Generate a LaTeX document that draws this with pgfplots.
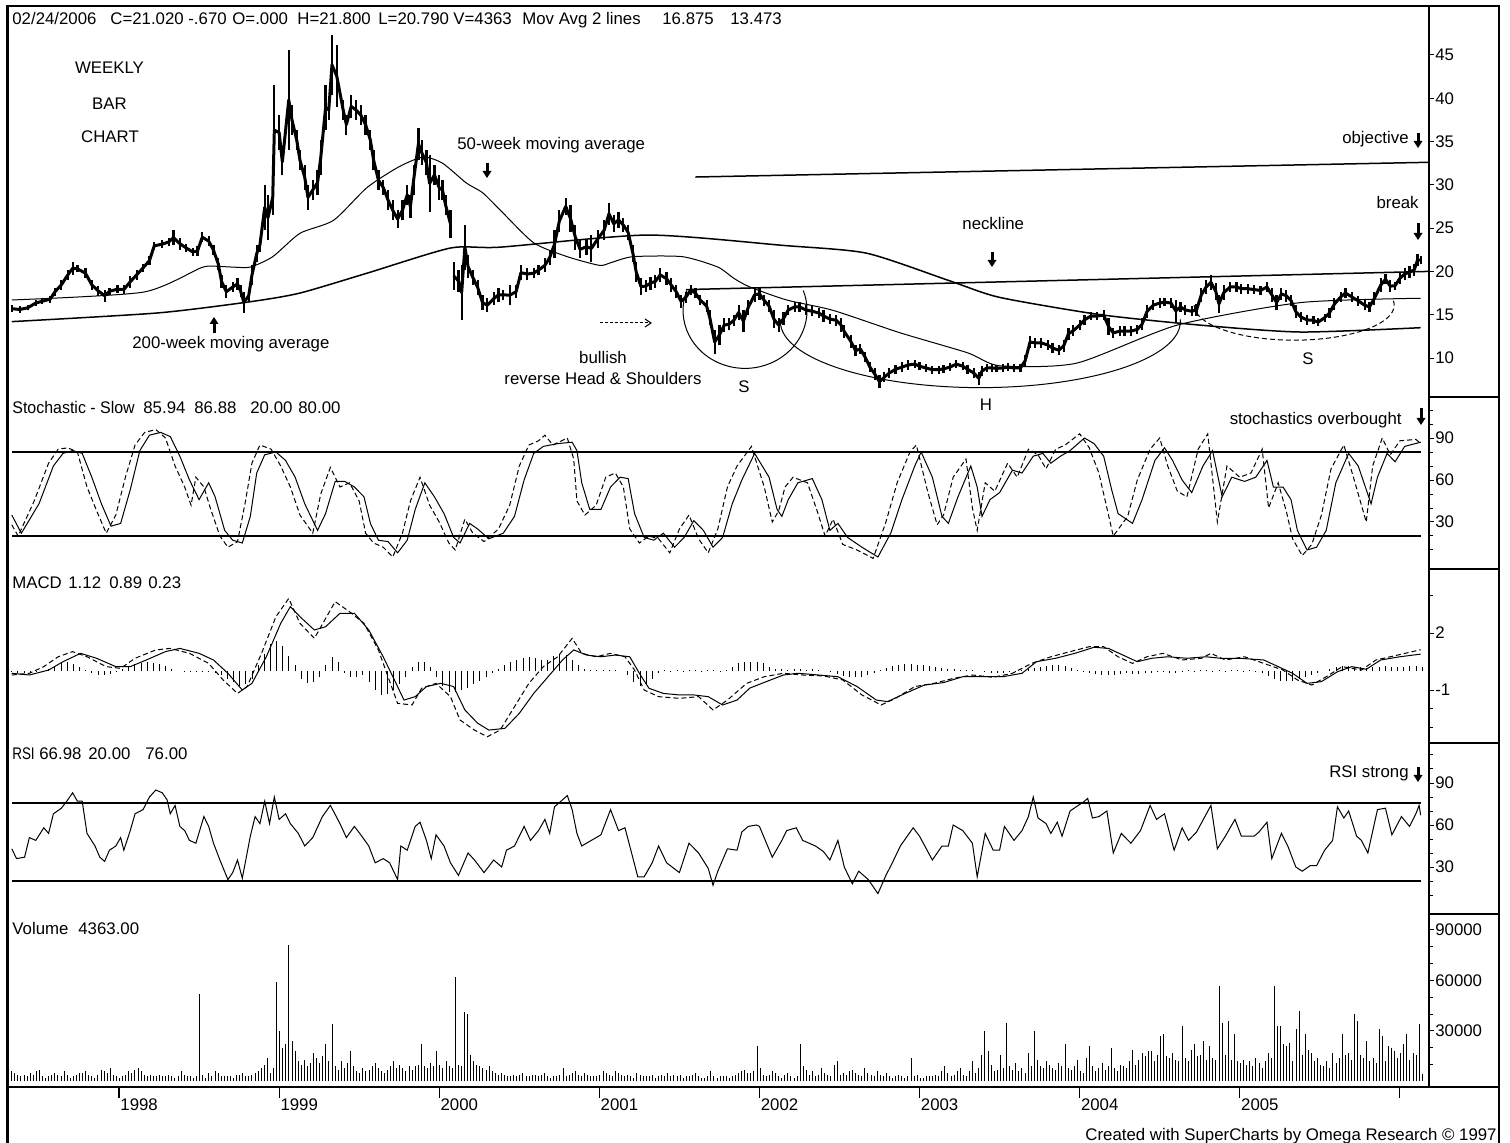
\documentclass[border=0pt]{standalone}
\usepackage{pgfplots}
\pgfplotsset{compat=1.18}
\usepackage{pgfplotstable}
\usepackage{fontspec}
\setmainfont{Liberation Sans}
\newcommand{\tf}{\fontsize{8.4}{10}\selectfont}

\pgfplotstableread{
t lo hi
1997.33 15.3 16.1
1997.38 15.2 16.0
1997.43 15.5 16.1
1997.48 16.0 16.7
1997.52 16.2 16.9
1997.57 16.4 17.2
1997.60 17.2 18.1
1997.64 17.9 19.0
1997.68 19.0 20.2
1997.71 19.6 21.1
1997.74 19.9 20.7
1997.79 19.2 20.4
1997.83 17.9 19.0
1997.87 17.2 18.3
1997.91 16.5 17.9
1997.94 17.3 18.1
1997.99 17.5 18.4
1998.03 17.4 18.4
1998.07 18.1 19.5
1998.11 19.0 20.2
1998.15 19.9 20.9
1998.19 20.7 21.8
1998.22 22.5 23.4
1998.27 22.7 23.6
1998.31 22.9 23.9
1998.34 23.0 24.8
1998.38 22.5 23.9
1998.42 22.2 23.2
1998.46 21.8 22.7
1998.49 21.8 22.9
1998.52 23.4 24.5
1998.56 22.9 24.1
1998.59 21.9 23.0
1998.62 20.2 21.5
1998.64 18.1 19.6
1998.67 16.9 18.4
1998.71 17.6 18.8
1998.74 17.9 19.2
1998.76 17.0 18.4
1998.78 15.2 17.6
1998.81 16.5 17.9
1998.83 18.4 20.7
1998.86 21.1 23.0
1998.88 22.2 23.9
1998.91 24.8 30.0
1998.93 23.6 28.8
1998.96 26.5 30.6
1998.97 31.1 41.5
1999.00 34.0 38.1
1999.02 31.1 34.2
1999.06 34.0 45.6
1999.08 35.8 39.2
1999.11 34.0 36.3
1999.13 31.7 34.0
1999.16 29.4 32.3
1999.18 27.1 30.0
1999.21 28.2 30.6
1999.24 28.8 31.7
1999.26 31.1 35.2
1999.29 36.3 41.5
1999.31 37.5 39.8
1999.33 40.4 47.3
1999.36 39.0 46.1
1999.40 37.5 39.8
1999.42 35.8 38.1
1999.45 37.7 40.4
1999.48 37.5 39.8
1999.51 36.9 39.2
1999.54 35.8 38.1
1999.57 34.0 36.3
1999.59 31.7 34.0
1999.62 29.4 31.7
1999.65 28.8 30.6
1999.68 27.1 29.4
1999.71 25.9 28.2
1999.74 25.0 27.1
1999.77 25.9 28.2
1999.80 27.7 30.0
1999.82 26.2 28.8
1999.84 28.8 32.3
1999.87 32.9 36.6
1999.89 32.3 35.2
1999.92 31.1 34.0
1999.94 26.9 33.4
1999.97 30.0 32.3
2000.00 28.2 31.1
2000.02 28.2 30.6
2000.04 26.5 28.8
2000.07 23.9 27.1
}\priceA

\pgfplotstableread{
t lo hi
2000.09 17.9 21.1
2000.12 17.6 20.2
2000.14 14.4 20.7
2000.16 20.2 25.4
2000.18 19.2 21.9
2000.21 18.4 20.2
2000.24 17.3 19.0
2000.27 15.5 17.3
2000.30 15.3 16.9
2000.34 16.1 17.6
2000.37 16.5 18.1
2000.40 16.7 17.9
2000.44 16.1 18.4
2000.48 16.9 18.4
2000.51 19.0 20.7
2000.55 19.0 20.4
2000.59 19.2 20.4
2000.62 19.6 20.7
2000.66 19.9 21.5
2000.69 20.7 22.5
2000.72 21.5 24.8
2000.75 24.5 27.1
2000.79 26.5 28.5
2000.82 24.5 27.7
2000.85 22.5 25.4
2000.88 21.5 23.6
2000.92 21.9 23.8
2000.95 21.1 24.2
2000.99 22.7 24.8
2001.03 23.6 25.9
2001.06 25.4 27.9
2001.09 24.5 26.5
2001.12 25.0 26.9
2001.15 24.5 26.2
2001.18 23.6 25.4
2001.21 21.1 23.0
2001.23 18.8 21.1
2001.26 17.3 19.2
2001.29 17.6 19.0
2001.32 17.9 19.4
2001.35 18.1 19.6
2001.38 18.8 20.4
2001.42 18.4 19.9
2001.45 17.6 19.2
2001.48 16.9 18.4
2001.51 15.8 17.3
2001.54 16.4 17.6
2001.57 17.3 18.4
2001.60 16.9 18.1
2001.63 16.1 17.3
2001.67 15.3 16.7
2001.69 13.8 15.5
2001.72 10.5 13.2
2001.75 11.5 13.8
2001.78 13.0 14.6
2001.81 13.2 14.6
2001.84 13.7 15.0
2001.87 14.4 16.1
2001.90 13.0 15.5
2001.93 15.0 16.7
2001.97 16.5 18.1
2002.00 16.7 18.1
2002.03 16.0 17.3
2002.06 15.3 16.7
2002.09 13.5 15.5
2002.12 13.0 14.6
2002.15 13.8 15.3
2002.18 15.0 16.1
2002.22 15.3 16.5
2002.25 15.3 16.5
2002.29 15.0 16.1
2002.33 14.8 16.0
2002.37 14.6 15.8
2002.40 14.2 15.5
2002.44 13.9 15.1
2002.48 13.7 15.0
2002.51 13.0 14.6
2002.53 12.3 13.8
2002.57 11.2 12.7
2002.60 10.2 11.5
2002.63 10.5 11.6
2002.66 9.5 10.7
2002.69 8.4 9.5
2002.72 7.5 8.8
2002.75 6.5 8.0
2002.78 7.2 8.4
2002.81 7.7 8.8
2002.85 8.2 9.2
2002.89 8.4 9.5
2002.93 8.6 9.8
2002.97 8.8 9.8
2003.00 8.6 9.5
2003.04 8.4 9.3
2003.08 8.2 9.1
2003.12 8.2 9.1
2003.15 8.3 9.2
2003.19 8.5 9.4
2003.23 8.8 9.8
2003.27 8.6 9.5
2003.30 8.2 9.2
2003.34 7.7 8.8
2003.37 6.9 8.4
2003.39 7.9 9.1
2003.42 8.4 9.3
2003.45 8.4 9.3
2003.48 8.4 9.2
2003.52 8.4 9.3
2003.55 8.5 9.4
2003.59 8.4 9.3
2003.63 8.4 9.3
2003.66 9.1 10.3
2003.69 11.2 12.5
2003.72 11.2 12.3
2003.76 11.2 12.3
2003.80 10.9 12.1
2003.83 10.6 11.7
2003.87 10.3 11.5
2003.90 10.7 12.1
2003.93 12.1 13.5
2003.96 12.5 13.8
2004.00 13.2 14.4
2004.03 13.8 15.0
2004.07 14.4 15.3
2004.11 14.4 15.3
2004.15 14.4 15.5
2004.18 12.7 14.6
2004.21 12.3 13.5
2004.25 12.5 13.7
2004.28 12.5 13.7
2004.32 12.5 13.7
2004.36 12.8 13.8
2004.39 13.2 14.6
2004.42 14.6 16.1
2004.46 15.5 16.7
2004.50 15.8 16.9
2004.53 16.0 16.9
2004.57 15.8 16.9
2004.60 14.2 16.7
2004.63 15.3 16.5
2004.66 15.0 16.1
2004.70 14.8 16.0
2004.73 14.9 16.2
2004.76 16.5 18.1
2004.79 17.4 19.0
2004.82 17.9 19.6
2004.85 16.7 18.7
2004.87 15.2 17.3
2004.90 16.7 18.4
2004.94 17.6 18.8
2004.98 17.6 18.8
2005.01 17.4 18.6
2005.05 17.4 18.6
2005.09 17.4 18.4
2005.13 17.3 18.3
2005.17 17.6 18.8
2005.20 16.5 18.1
2005.23 15.5 17.3
2005.26 16.7 18.1
2005.29 16.5 17.9
2005.32 16.0 17.3
2005.35 14.6 16.1
2005.38 14.2 15.3
2005.42 13.8 15.0
2005.46 13.9 14.8
2005.49 13.7 14.6
2005.53 14.2 15.1
2005.56 14.6 15.8
2005.59 15.5 16.9
2005.63 16.5 17.6
2005.66 16.9 18.1
2005.70 16.5 17.6
2005.74 16.0 17.2
2005.78 15.5 16.7
2005.81 15.3 16.5
2005.84 16.1 17.6
2005.88 17.6 19.2
2005.91 18.5 19.7
2005.94 17.6 19.0
2005.97 17.9 18.8
2006.00 18.5 19.9
2006.03 19.0 20.4
2006.06 19.2 20.6
2006.09 19.5 20.9
2006.11 20.6 22.0
2006.13 20.8 21.8
}\priceB

\pgfplotstableread{
t v
1997.33 35
1997.39 22
1997.50 43
1997.59 70
1997.65 79
1997.71 81
1997.77 79
1997.83 62
1997.89 43
1997.95 27
1998.01 29
1998.07 53
1998.13 81
1998.19 92
1998.26 94
1998.32 91
1998.38 77
1998.44 60
1998.50 46
1998.56 58
1998.60 48
1998.66 24
1998.71 17
1998.77 15
1998.82 34
1998.86 65
1998.91 78
1998.98 80
1999.04 74
1999.10 62
1999.16 43
1999.24 24
1999.29 36
1999.35 59
1999.41 59
1999.47 55
1999.53 48
1999.57 29
1999.62 17
1999.68 16
1999.74 8
1999.80 17
1999.85 39
1999.91 58
1999.97 48
2000.03 36
2000.09 19
2000.13 15
2000.19 29
2000.24 25
2000.31 18
2000.40 22
2000.47 34
2000.53 60
2000.59 79
2000.65 84
2000.74 86
2000.83 87
2000.86 81
2000.89 58
2000.94 39
2001.01 39
2001.07 55
2001.13 62
2001.18 61
2001.22 36
2001.28 19
2001.34 17
2001.40 22
2001.47 12
2001.53 19
2001.59 31
2001.65 24
2001.71 12
2001.77 19
2001.83 43
2001.89 60
2001.97 79
2002.06 62
2002.11 39
2002.14 34
2002.18 46
2002.24 58
2002.33 61
2002.39 46
2002.44 24
2002.49 29
2002.55 19
2002.64 12
2002.74 5
2002.82 22
2002.89 46
2002.97 70
2003.01 80
2003.08 62
2003.14 34
2003.18 29
2003.24 48
2003.32 70
2003.36 55
2003.39 34
2003.44 46
2003.50 51
2003.58 67
2003.64 65
2003.71 77
2003.77 79
2003.82 72
2003.88 77
2003.94 81
2004.03 90
2004.09 86
2004.15 77
2004.20 53
2004.24 36
2004.33 29
2004.39 46
2004.47 74
2004.53 83
2004.58 74
2004.64 60
2004.70 51
2004.77 70
2004.83 81
2004.89 48
2004.95 62
2005.03 59
2005.10 62
2005.17 74
2005.21 55
2005.27 55
2005.32 46
2005.36 24
2005.42 10
2005.48 12
2005.54 24
2005.60 58
2005.68 79
2005.74 70
2005.82 43
2005.86 62
2005.92 79
2005.97 73
2006.03 84
2006.13 87
}\stoD

\pgfplotstableread{
t v
1997.33 28
1997.37 20
1997.47 45
1997.56 72
1997.62 82
1997.68 83
1997.74 80
1997.80 55
1997.86 38
1997.92 22
1997.98 35
1998.04 62
1998.10 85
1998.16 94
1998.23 96
1998.29 90
1998.35 70
1998.41 55
1998.45 42
1998.48 62
1998.53 55
1998.57 40
1998.63 20
1998.68 12
1998.74 16
1998.79 45
1998.83 72
1998.88 85
1998.95 82
1999.01 70
1999.07 55
1999.13 35
1999.21 22
1999.26 50
1999.32 69
1999.38 55
1999.44 58
1999.50 45
1999.54 22
1999.59 15
1999.65 12
1999.71 5
1999.77 22
1999.82 45
1999.88 62
1999.94 42
2000.00 30
2000.06 15
2000.10 10
2000.16 32
2000.21 22
2000.28 16
2000.37 25
2000.44 42
2000.50 70
2000.56 85
2000.62 88
2000.66 92
2000.71 85
2000.80 90
2000.84 75
2000.86 45
2000.91 35
2000.98 42
2001.04 62
2001.10 65
2001.15 55
2001.19 25
2001.25 15
2001.31 20
2001.37 18
2001.44 8
2001.50 25
2001.56 35
2001.62 18
2001.68 8
2001.74 25
2001.80 55
2001.86 70
2001.95 84
2002.03 55
2002.08 30
2002.12 38
2002.16 55
2002.21 62
2002.30 58
2002.36 38
2002.41 20
2002.46 32
2002.52 14
2002.61 10
2002.71 4
2002.79 30
2002.86 58
2002.94 80
2002.98 85
2003.05 52
2003.11 28
2003.15 35
2003.21 62
2003.29 75
2003.33 40
2003.36 24
2003.41 58
2003.47 52
2003.55 72
2003.61 62
2003.68 82
2003.74 78
2003.79 68
2003.85 82
2003.91 85
2004.00 93
2004.06 83
2004.12 65
2004.17 40
2004.21 20
2004.30 34
2004.36 60
2004.44 82
2004.50 90
2004.55 70
2004.61 52
2004.67 48
2004.74 82
2004.80 93
2004.86 30
2004.92 70
2005.00 62
2005.07 65
2005.14 82
2005.18 40
2005.24 58
2005.29 38
2005.33 18
2005.39 6
2005.45 14
2005.51 35
2005.57 68
2005.65 85
2005.71 62
2005.79 30
2005.83 70
2005.89 90
2005.94 78
2006.00 88
2006.10 89
2006.13 86
}\stoK

\pgfplotstableread{
t v
1997.33 -0.12
1997.44 -0.21
1997.56 0.05
1997.65 0.49
1997.76 0.93
1997.86 0.67
1997.98 0.23
1998.07 0.23
1998.17 0.58
1998.29 1.02
1998.38 1.19
1998.50 0.93
1998.59 0.58
1998.68 -0.12
1998.77 -1.0
1998.83 -0.65
1998.92 0.75
1999.01 2.51
1999.07 3.39
1999.13 2.86
1999.22 2.16
1999.29 2.33
1999.38 3.04
1999.47 3.04
1999.56 2.16
1999.65 0.75
1999.72 -0.47
1999.78 -1.53
1999.85 -1.35
1999.92 -0.82
2000.01 -0.65
2000.09 -0.82
2000.16 -2.05
2000.24 -2.75
2000.31 -3.11
2000.41 -3.02
2000.50 -2.23
2000.59 -1.18
2000.68 -0.30
2000.77 0.58
2000.84 1.11
2000.92 0.84
2001.01 0.75
2001.10 0.84
2001.19 0.75
2001.25 -0.12
2001.31 -0.91
2001.40 -1.18
2001.50 -1.26
2001.59 -1.26
2001.68 -1.35
2001.77 -1.79
2001.86 -1.53
2001.94 -0.9
2002.03 -0.6
2002.15 -0.21
2002.24 -0.12
2002.37 -0.21
2002.49 -0.30
2002.61 -0.82
2002.73 -1.53
2002.80 -1.61
2002.91 -1.18
2003.03 -0.74
2003.15 -0.61
2003.27 -0.30
2003.39 -0.30
2003.52 -0.30
2003.64 -0.12
2003.73 0.49
2003.85 0.67
2003.97 0.93
2004.09 1.25
2004.18 1.19
2004.27 0.84
2004.36 0.49
2004.45 0.67
2004.55 0.75
2004.67 0.67
2004.79 0.75
2004.88 0.67
2005.00 0.67
2005.15 0.58
2005.24 0.23
2005.33 -0.12
2005.42 -0.65
2005.51 -0.56
2005.61 -0.04
2005.70 0.23
2005.79 0.09
2005.88 0.58
2006.00 0.75
2006.13 0.89
}\macdS

\pgfplotstableread{
t v
1997.33 -0.21
1997.44 -0.12
1997.53 0.23
1997.62 0.75
1997.71 1.02
1997.80 0.75
1997.92 0.23
1998.01 0.14
1998.10 0.67
1998.23 1.11
1998.32 1.19
1998.44 0.93
1998.56 0.40
1998.65 -0.47
1998.74 -1.18
1998.80 -0.82
1998.89 0.93
1998.98 2.86
1999.06 3.82
1999.13 2.51
1999.22 1.72
1999.35 3.65
1999.44 3.12
1999.53 2.51
1999.62 1.11
1999.68 -0.30
1999.74 -1.70
1999.83 -1.79
1999.89 -0.91
1999.98 -0.65
2000.07 -1.35
2000.13 -2.58
2000.22 -3.11
2000.30 -3.46
2000.38 -3.11
2000.47 -1.88
2000.56 -0.65
2000.65 0.23
2000.74 0.75
2000.83 1.72
2000.89 0.93
2000.98 0.75
2001.07 0.93
2001.16 0.75
2001.22 0.05
2001.28 -1.0
2001.37 -1.35
2001.50 -1.44
2001.62 -1.35
2001.71 -2.05
2001.80 -1.53
2001.92 -0.65
2002.03 -0.30
2002.15 -0.12
2002.27 -0.21
2002.40 -0.26
2002.52 -0.47
2002.64 -1.26
2002.76 -1.79
2002.85 -1.44
2002.97 -0.82
2003.09 -0.65
2003.21 -0.39
2003.33 -0.21
2003.46 -0.33
2003.58 -0.12
2003.70 0.40
2003.82 0.75
2003.94 1.02
2004.06 1.28
2004.15 1.28
2004.24 0.75
2004.33 0.40
2004.42 0.75
2004.52 0.93
2004.64 0.58
2004.76 0.67
2004.82 0.93
2004.91 0.58
2005.03 0.75
2005.15 0.40
2005.27 0.05
2005.36 -0.47
2005.45 -0.74
2005.54 -0.30
2005.64 0.23
2005.76 0.05
2005.85 0.58
2005.94 0.75
2006.13 1.12
}\macdK

\pgfplotstableread[row sep=\\]{h\\
-0.05\\-0.08\\-0.1\\-0.08\\-0.05\\0\\
0.1\\0.25\\0.4\\0.45\\0.35\\0.2\\0.05\\
-0.1\\-0.2\\-0.2\\-0.15\\-0.05\\
0.1\\0.25\\0.35\\0.4\\0.45\\0.42\\0.35\\0.25\\0.1\\
0\\-0.05\\-0.05\\-0.05\\-0.05\\
-0.05\\-0.1\\-0.2\\
-0.4\\-0.6\\-0.8\\-0.7\\-0.4\\
0.3\\0.9\\1.4\\1.6\\1.3\\0.8\\0.3\\
-0.4\\-0.65\\-0.6\\-0.3\\
0.3\\0.75\\0.5\\
-0.1\\-0.3\\-0.3\\-0.2\\
-0.6\\-1.0\\-1.26\\-1.2\\-1.0\\-0.7\\-0.3\\
0.2\\0.5\\0.45\\0.2\\
-0.3\\-0.8\\-1.1\\-1.1\\-1.0\\-0.9\\-0.7\\-0.5\\-0.3\\
-0.1\\0.1\\0.3\\0.45\\0.6\\0.7\\0.75\\0.7\\0.6\\
0.6\\0.8\\0.9\\0.85\\0.6\\
0.3\\0.1\\0.05\\0.05\\0.05\\0.05\\0.05\\0\\
-0.2\\-0.6\\-0.8\\-0.7\\-0.4\\
-0.1\\0.05\\-0.05\\0.05\\-0.05\\0.05\\0.05\\-0.05\\0.05\\0.05\\-0.05\\
0.05\\0.2\\0.4\\0.5\\
0.5\\0.5\\0.4\\0.2\\
0.1\\0.1\\0.05\\0.1\\0.1\\0.05\\0.1\\0.05\\0\\
-0.05\\-0.15\\-0.25\\-0.3\\-0.3\\-0.3\\-0.2\\
-0.1\\0.05\\0.15\\0.25\\0.3\\0.35\\0.35\\0.3\\0.3\\0.25\\0.2\\0.15\\
0.1\\0.1\\0.05\\0.05\\0.05\\
0\\-0.05\\-0.1\\-0.1\\-0.1\\-0.05\\-0.05\\
0.05\\0.1\\0.15\\0.2\\0.25\\0.3\\0.3\\0.25\\0.15\\
0.05\\-0.05\\-0.1\\-0.15\\-0.2\\-0.2\\-0.2\\-0.15\\-0.1\\-0.15\\-0.15\\-0.1\\-0.1\\-0.05\\
-0.05\\-0.1\\-0.1\\-0.05\\0.05\\-0.05\\0.05\\0.05\\-0.05\\
0.05\\-0.05\\0.05\\0.05\\-0.05\\0.05\\-0.05\\-0.1\\-0.25\\-0.4\\
-0.5\\-0.55\\-0.5\\-0.4\\-0.3\\-0.2\\-0.1\\0\\
0.1\\0.2\\0.25\\0.25\\0.2\\0.2\\0.15\\0.2\\0.2\\0.25\\0.2\\0.2\\0.2\\0.25\\0.25\\0.23\\
}\hist

\pgfplotstableread{
t v
1997.33 43
1997.36 36
1997.41 37
1997.44 51
1997.48 49
1997.53 58
1997.56 54
1997.59 68
1997.64 72
1997.68 78
1997.71 83
1997.74 77
1997.77 77
1997.80 54
1997.85 45
1997.88 37
1997.91 34
1997.94 42
1997.98 45
1998.01 51
1998.03 42
1998.07 56
1998.10 68
1998.15 71
1998.19 80
1998.23 85
1998.27 83
1998.30 78
1998.32 68
1998.35 74
1998.38 59
1998.41 56
1998.44 49
1998.48 47
1998.53 66
1998.56 59
1998.59 47
1998.63 35
1998.68 21
1998.71 26
1998.74 35
1998.77 22
1998.82 52
1998.85 66
1998.88 61
1998.91 77
1998.94 61
1998.97 80
1999.00 64
1999.04 68
1999.07 61
1999.12 54
1999.16 45
1999.21 51
1999.27 66
1999.32 74
1999.38 61
1999.42 51
1999.47 59
1999.51 53
1999.56 45
1999.60 33
1999.65 36
1999.69 33
1999.74 21
1999.76 45
1999.80 42
1999.85 59
1999.88 62
1999.92 49
1999.95 36
1999.98 53
2000.03 45
2000.07 33
2000.12 24
2000.18 40
2000.22 35
2000.28 26
2000.34 35
2000.39 30
2000.42 42
2000.47 45
2000.53 59
2000.57 49
2000.62 56
2000.66 64
2000.69 54
2000.72 73
2000.77 78
2000.80 81
2000.83 71
2000.86 54
2000.89 45
2000.95 49
2001.01 53
2001.07 71
2001.12 56
2001.16 58
2001.19 45
2001.24 23
2001.28 23
2001.33 33
2001.37 45
2001.42 33
2001.50 26
2001.56 47
2001.62 40
2001.68 29
2001.71 17
2001.74 27
2001.80 43
2001.86 42
2001.89 55
2001.93 59
2001.98 60
2002.00 59
2002.08 37
2002.14 49
2002.17 56
2002.23 58
2002.27 49
2002.35 45
2002.40 41
2002.44 35
2002.49 49
2002.53 30
2002.58 18
2002.62 27
2002.68 21
2002.74 11
2002.79 24
2002.83 33
2002.88 45
2002.96 58
2003.00 52
2003.08 35
2003.14 45
2003.18 45
2003.21 60
2003.27 56
2003.33 47
2003.36 23
2003.41 54
2003.46 42
2003.50 42
2003.53 59
2003.59 49
2003.64 56
2003.68 66
2003.71 80
2003.74 65
2003.79 61
2003.82 54
2003.86 62
2003.89 52
2003.94 70
2004.03 77
2004.05 79
2004.08 65
2004.12 66
2004.17 70
2004.21 40
2004.26 54
2004.32 47
2004.38 56
2004.44 74
2004.48 64
2004.53 68
2004.59 42
2004.64 58
2004.68 49
2004.73 55
2004.82 74
2004.86 43
2004.91 52
2004.97 64
2005.01 52
2005.09 52
2005.12 55
2005.17 62
2005.20 36
2005.26 54
2005.30 45
2005.35 30
2005.39 27
2005.44 31
2005.48 31
2005.53 42
2005.58 49
2005.61 73
2005.65 65
2005.68 70
2005.73 52
2005.76 49
2005.80 40
2005.86 71
2005.91 72
2005.95 53
2006.01 66
2006.06 59
2006.10 68
2006.12 74
2006.13 67
}\rsi

\pgfplotstableread[row sep=\\]{v\\
6\\5\\4\\3\\4\\3\\5\\4\\6\\7\\
3\\2\\3\\4\\5\\4\\3\\6\\4\\2\\
3\\4\\5\\5\\6\\4\\3\\2\\4\\7\\
6\\5\\8\\4\\3\\2\\3\\4\\6\\5\\
7\\8\\6\\4\\3\\4\\3\\3\\4\\3\\
3\\4\\3\\2\\3\\6\\4\\3\\3\\2\\
3\\52\\4\\2\\5\\3\\6\\5\\3\\3\\
3\\3\\2\\4\\4\\5\\3\\3\\4\\5\\
6\\8\\10\\14\\5\\8\\59\\30\\20\\22\\
81\\24\\18\\12\\10\\13\\9\\11\\17\\14\\
11\\15\\22\\12\\34\\9\\7\\12\\8\\11\\
18\\9\\6\\5\\8\\6\\7\\9\\11\\8\\
6\\5\\7\\9\\12\\8\\10\\8\\6\\9\\
7\\9\\10\\22\\9\\8\\11\\9\\18\\10\\
8\\12\\9\\8\\62\\10\\9\\41\\40\\16\\
12\\10\\9\\8\\7\\9\\6\\5\\4\\5\\
4\\3\\3\\4\\3\\4\\5\\3\\3\\4\\
4\\3\\4\\5\\3\\2\\3\\3\\4\\8\\
3\\4\\5\\6\\4\\3\\5\\4\\3\\3\\
3\\4\\6\\5\\4\\3\\6\\5\\4\\3\\
4\\3\\2\\5\\4\\3\\3\\3\\4\\2\\
3\\4\\3\\5\\3\\4\\3\\4\\2\\3\\
3\\4\\5\\3\\2\\2\\3\\6\\3\\2\\
3\\3\\3\\2\\3\\4\\5\\6\\7\\5\\
5\\6\\21\\8\\4\\3\\4\\6\\5\\3\\
2\\4\\5\\3\\2\\3\\22\\9\\7\\4\\
6\\3\\4\\8\\5\\4\\3\\10\\12\\4\\
5\\4\\6\\7\\5\\4\\3\\8\\5\\4\\
3\\6\\4\\3\\5\\3\\2\\3\\4\\3\\
2\\3\\14\\3\\4\\2\\2\\3\\3\\3\\
4\\3\\6\\9\\5\\3\\4\\6\\8\\4\\
3\\6\\12\\5\\8\\16\\30\\18\\10\\6\\
7\\16\\8\\35\\9\\7\\11\\6\\8\\5\\
17\\9\\30\\13\\9\\8\\12\\10\\8\\7\\
11\\9\\22\\8\\7\\9\\13\\6\\5\\14\\
21\\9\\6\\8\\11\\7\\9\\20\\8\\6\\
10\\9\\8\\12\\19\\10\\13\\17\\15\\18\\
18\\12\\16\\27\\28\\15\\14\\17\\13\\12\\
33\\14\\12\\19\\22\\15\\16\\24\\13\\21\\
14\\13\\57\\35\\16\\36\\13\\28\\12\\11\\
13\\10\\12\\9\\14\\11\\8\\12\\17\\14\\
57\\33\\33\\22\\21\\23\\12\\31\\42\\16\\
28\\19\\17\\12\\14\\10\\9\\12\\8\\17\\
11\\14\\28\\16\\17\\13\\40\\36\\16\\14\\
24\\12\\14\\11\\31\\27\\12\\21\\20\\18\\
14\\17\\22\\28\\13\\17\\16\\34\\4.4\\
}\vol

\newcommand{\darr}[3]{%
  \draw[line width=1.5pt] (#1,#2) -- (#1,#3-5);
  \fill (#1-4.5,#3-7) -- (#1+4.5,#3-7) -- (#1,#3) -- cycle;}
\newcommand{\uarr}[3]{%
  \draw[line width=1.5pt] (#1,#3) -- (#1,#2+5);
  \fill (#1-4.5,#2+7) -- (#1+4.5,#2+7) -- (#1,#2) -- cycle;}

\begin{document}
\begin{tikzpicture}[font=\tf]
\path[use as bounding box] (0pt,0pt) rectangle (755pt,-571.5pt);

\pgfplotsset{
  panel/.style={
    scale only axis, width=709.5pt,
    xmin=1997.319, xmax=2006.182,
    axis line style={draw=none},
    xtick=\empty,
    ytick pos=right, yticklabel pos=right,
    tick align=outside,
    major tick length=2.5pt, minor tick length=2pt,
    major tick style={line width=0.5pt, black},
    minor tick style={line width=0.5pt, black},
    tick label style={font=\tf, inner sep=0.5pt},
    anchor=south west,
  },
  bars/.style={draw=none, mark=none, forget plot,
    error bars/.cd, y dir=plus, y explicit, error mark=none,
    error bar style={draw=black, line width=1.1pt, solid}},
}

% ---------- price ----------
\begin{axis}[panel, at={(5pt,-198.5pt)}, height=195.5pt,
  ymin=5.497, ymax=50.65,
  ytick={10,15,20,25,30,35,40,45}, yticklabels={10,15,20,25,30,35,40,45}]
\addplot[black, line width=0.5pt, smooth, tension=0.4] coordinates {
(1997.33,16.7) (1998.15,17.6) (1998.51,20.4) (1998.59,20.6) (1998.71,20.5) (1998.82,20.5)
(1998.96,21.7) (1999.13,24.4) (1999.34,25.9) (1999.55,29.7) (1999.75,32.1) (1999.90,33.2)
(2000.02,32.5) (2000.17,30.2) (2000.27,29.1) (2000.38,27.1) (2000.59,23.3) (2000.80,21.7)
(2001.00,20.7) (2001.07,21.0) (2001.21,21.7) (2001.52,21.7) (2001.74,20.5) (2001.84,19.2)
(2001.94,18.2) (2002.17,16.7) (2002.46,15.5) (2002.88,12.9) (2003.30,10.6) (2003.50,9.1)
(2003.98,9.4) (2004.61,13.8) (2005.38,16.4) (2006.13,16.9)};
\addplot[black, line width=0.75pt, smooth, tension=0.4] coordinates {
(1997.33,14.2) (1998.24,15.2) (1998.82,16.5) (1999.13,17.5) (1999.55,19.8) (2000.07,22.7)
(2000.38,22.8) (2001.30,24.2) (2002.15,23.0) (2002.67,22.1) (2003.19,18.9) (2003.50,17.0)
(2004.13,15.0) (2004.75,13.8) (2005.38,13.0) (2006.13,13.5)};
\addplot[black, line width=0.75pt] coordinates {(2001.54,17.9) (2006.18,20.0)};
\addplot[black, line width=0.75pt] coordinates {(2001.60,30.9) (2006.18,32.6)};
\addplot[bars] table[x=t, y=lo, y error plus expr=\thisrow{hi}-\thisrow{lo}]{\priceA};
\addplot[bars] table[x=t, y=lo, y error plus expr=\thisrow{hi}-\thisrow{lo}]{\priceB};
\addplot[black, line width=1.5pt, line join=round] table[x=t, y expr=0.5*\thisrow{lo}+0.5*\thisrow{hi}]{\priceA};
\addplot[black, line width=1.5pt, line join=round] table[x=t, y expr=0.5*\thisrow{lo}+0.5*\thisrow{hi}]{\priceB};
\draw[line width=0.5pt] (axis cs:2001.91,15.5) ++(160:31pt and 29pt) arc[start angle=160, end angle=380, x radius=31pt, y radius=29pt];
\draw[line width=0.5pt] (axis cs:2003.38,14.2) ++(178:100pt and 33pt) arc[start angle=178, end angle=362, x radius=100pt, y radius=33pt];
\draw[line width=0.5pt, dash pattern=on 2.5pt off 1.5pt] (axis cs:2005.34,16.1) ++(180:50pt and 17.5pt) arc[start angle=180, end angle=368, x radius=50pt, y radius=17.5pt];
\end{axis}

% ---------- stochastic ----------
\begin{axis}[panel, at={(5pt,-284.5pt)}, height=86pt,
  ymin=-3.57, ymax=119.29,
  ytick={30,60,90}, yticklabels={30,60,90}, minor ytick={10,20,40,50,70,80,100,110}]
\addplot[black, line width=0.9pt] coordinates {(1997.33,80) (2006.13,80)};
\addplot[black, line width=0.9pt] coordinates {(1997.33,20) (2006.13,20)};
\addplot[black, line width=0.5pt, dash pattern=on 2.5pt off 1.5pt] table[x=t,y=v]{\stoK};
\addplot[black, line width=0.5pt] table[x=t,y=v]{\stoD};
\end{axis}

% ---------- MACD ----------
\begin{axis}[panel, at={(5pt,-371.5pt)}, height=87pt,
  ymin=-3.79, ymax=5.37,
  ytick={-1,2}, yticklabels={-1,2}, minor ytick={-3,-2,4}]
\addplot[ycomb, black, line width=0.45pt] table[x expr=1997.33+\coordindex*0.03847, y=h]{\hist};
\addplot[black, line width=0.5pt, dash pattern=on 2.5pt off 1.5pt] table[x=t,y=v]{\macdK};
\addplot[black, line width=0.5pt] table[x=t,y=v]{\macdS};
\end{axis}

% ---------- RSI ----------
\begin{axis}[panel, at={(5pt,-457pt)}, height=85.5pt,
  ymin=-3.57, ymax=118.57,
  ytick={30,60,90}, yticklabels={30,60,90}, minor ytick={10,20,40,50,70,80,100,110}]
\addplot[black, line width=0.9pt] coordinates {(1997.33,76) (2006.13,76)};
\addplot[black, line width=0.9pt] coordinates {(1997.33,20) (2006.13,20)};
\addplot[black, line width=0.5pt] table[x=t,y=v]{\rsi};
\end{axis}

% ---------- Volume ----------
\begin{axis}[panel, at={(5pt,-543.5pt)}, height=86.5pt,
  ymin=-3.27, ymax=99.5,
  ytick={30,60,90}, yticklabels={30000,60000,90000}, minor ytick={10,20,40,50,70,80}]
\addplot[ycomb, black, line width=0.5pt] table[x expr=1997.33+\coordindex*0.019236, y=v]{\vol};
\end{axis}

% ---------- time axis ----------
\begin{axis}[scale only axis, width=709.5pt, height=1pt, at={(5pt,-543.5pt)}, anchor=south west,
  xmin=1997.319, xmax=2006.182, ymin=0, ymax=1,
  axis line style={draw=none}, ytick=\empty,
  xtick={1998,1999,2000,2001,2002,2003,2004,2005,2006},
  xticklabels={1998,1999,2000,2001,2002,2003,2004,2005,{}},
  xtick pos=left, xticklabel pos=left, tick align=outside,
  major tick length=5.5pt, major tick style={line width=0.6pt, black},
  xticklabel style={font=\tf, anchor=north west, inner sep=0pt, xshift=0.5pt}]
\end{axis}

% ---------- frame and annotations (pixel units) ----------
\begin{scope}[x=0.5pt, y=-0.5pt]
\draw[line width=1.5pt] (7.5,5) -- (7.5,1143);
\draw[line width=1.1pt] (7.5,6) -- (1499,6);
\draw[line width=1.3pt] (1499,5) -- (1499,1143);
\draw[line width=0.7pt] (1429,6) -- (1429,1087);
\foreach \yy in {397,569,743,914} \draw[line width=0.8pt] (1429,\yy) -- (1499,\yy);
\draw[line width=1pt] (7.5,1087) -- (1499,1087);

\node[anchor=base west, inner sep=0pt] at (12,25) {02/24/2006};
\node[anchor=base west, inner sep=0pt] at (110,25) {C=21.020};
\node[anchor=base west, inner sep=0pt] at (188,25) {-.670};
\node[anchor=base west, inner sep=0pt] at (232,25) {O=.000};
\node[anchor=base west, inner sep=0pt] at (297,25) {H=21.800};
\node[anchor=base west, inner sep=0pt] at (378,25) {L=20.790};
\node[anchor=base west, inner sep=0pt] at (453,25) {V=4363};
\node[anchor=base west, inner sep=0pt] at (522,25) {Mov Avg 2 lines};
\node[anchor=base west, inner sep=0pt] at (662,25) {16.875};
\node[anchor=base west, inner sep=0pt] at (730,25) {13.473};

\node[anchor=base, inner sep=0pt] at (109.5,74) {WEEKLY};
\node[anchor=base, inner sep=0pt] at (109.5,110) {BAR};
\node[anchor=base, inner sep=0pt] at (110,143) {CHART};

\node[anchor=base west, inner sep=0pt] at (457,150) {50-week moving average};
\darr{487}{163}{178}
\node[anchor=base west, inner sep=0pt] at (132,349) {200-week moving average};
\uarr{214}{317}{333}
\draw[line width=0.5pt, dash pattern=on 1.5pt off 1pt] (600,323) -- (648,323);
\draw[line width=0.5pt] (645,319) -- (651,323) -- (645,327);
\node[anchor=base, inner sep=0pt] at (603,364) {bullish};
\node[anchor=base, inner sep=0pt] at (603,385) {reverse Head \& Shoulders};
\node[anchor=base, inner sep=0pt] at (744,393) {S};
\node[anchor=base, inner sep=0pt] at (986,411) {H};
\node[anchor=base, inner sep=0pt] at (1308,365) {S};
\node[anchor=base west, inner sep=0pt] at (962,230) {neckline};
\darr{992}{252}{267}
\node[anchor=base east, inner sep=0pt] at (1409,144) {objective};
\darr{1418}{133}{148}
\node[anchor=base east, inner sep=0pt] at (1419,209) {break};
\darr{1418}{223}{240}
\node[anchor=base east, inner sep=0pt] at (1402,425) {stochastics overbought};
\darr{1421}{408}{425}
\node[anchor=base east, inner sep=0pt] at (1409,777) {RSI strong};
\darr{1418}{767}{782}

\node[anchor=base west, inner sep=0pt, xscale=0.95] at (12,414) {Stochastic - Slow};
\node[anchor=base west, inner sep=0pt] at (143,414) {85.94};
\node[anchor=base west, inner sep=0pt] at (194,414) {86.88};
\node[anchor=base west, inner sep=0pt] at (250,414) {20.00};
\node[anchor=base west, inner sep=0pt] at (298,414) {80.00};

\node[anchor=base west, inner sep=0pt] at (12,589) {MACD};
\node[anchor=base west, inner sep=0pt] at (68,589) {1.12};
\node[anchor=base west, inner sep=0pt] at (109,589) {0.89};
\node[anchor=base west, inner sep=0pt] at (148,589) {0.23};

\node[anchor=base west, inner sep=0pt, xscale=0.8] at (12,760) {RSI};
\node[anchor=base west, inner sep=0pt] at (39,760) {66.98};
\node[anchor=base west, inner sep=0pt] at (88,760) {20.00};
\node[anchor=base west, inner sep=0pt] at (145,760) {76.00};

\node[anchor=base west, inner sep=0pt] at (12,934) {Volume};
\node[anchor=base west, inner sep=0pt] at (78,934) {4363.00};

\node[anchor=base east, inner sep=0pt] at (1497,1140) {Created with SuperCharts by Omega Research \textcopyright{} 1997};
\end{scope}
\end{tikzpicture}
\end{document}
